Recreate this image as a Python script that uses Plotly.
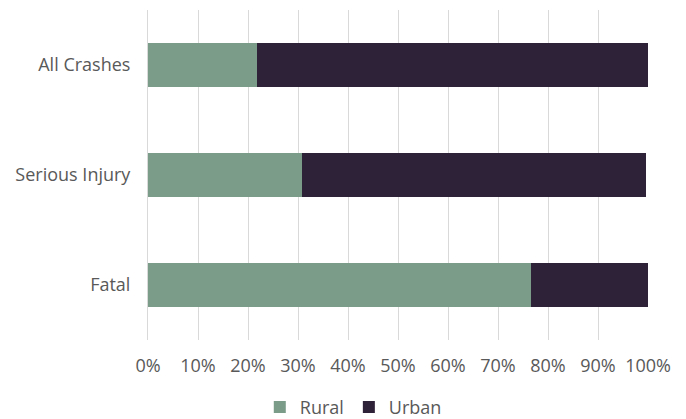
import plotly.graph_objects as go

categories = ["All Crashes", "Serious Injury", "Fatal"]
rural = [21.8, 30.8, 76.6]
urban = [78.2, 68.8, 23.4]
tick_vals = [0, 10, 20, 30, 40, 50, 60, 70, 80, 90, 100]
tick_text = [f"{v}%" for v in tick_vals]

RURAL_COLOR = "#7a9c88"
URBAN_COLOR = "#2e2238"

fig = go.Figure()
fig.add_trace(go.Bar(y=categories, x=rural, name="Rural", orientation="h",
                     marker=dict(color=RURAL_COLOR, line=dict(width=0))))
fig.add_trace(go.Bar(y=categories, x=urban, name="Urban", orientation="h",
                     marker=dict(color=URBAN_COLOR, line=dict(width=0))))

fig.update_layout(
    barmode="stack",
    bargap=0.6,
    width=686, height=419,
    margin=dict(l=148, r=38, t=10, b=79, autoexpand=False),
    plot_bgcolor="white", paper_bgcolor="white",
    font=dict(family="Open Sans", size=18, color="#595959"),
    showlegend=True,
    legend=dict(orientation="h", x=0.515, xanchor="center", xref="container",
                y=0.028, yanchor="middle", yref="container",
                font=dict(size=18, color="#595959"), traceorder="normal",
                itemwidth=30),
    xaxis=dict(range=[0, 100], tickvals=tick_vals, ticktext=tick_text,
               showgrid=True, gridcolor="#d9d9d9", gridwidth=1, zeroline=False,
               showline=False, ticks="", ticklabelstandoff=13, fixedrange=True,
               automargin=False),
    yaxis=dict(categoryorder="array", categoryarray=categories[::-1],
               showgrid=False, showline=True, linecolor="#d9d9d9", linewidth=1,
               ticks="", ticklabelstandoff=13, fixedrange=True, automargin=False),
)

fig.write_html("out.html")
